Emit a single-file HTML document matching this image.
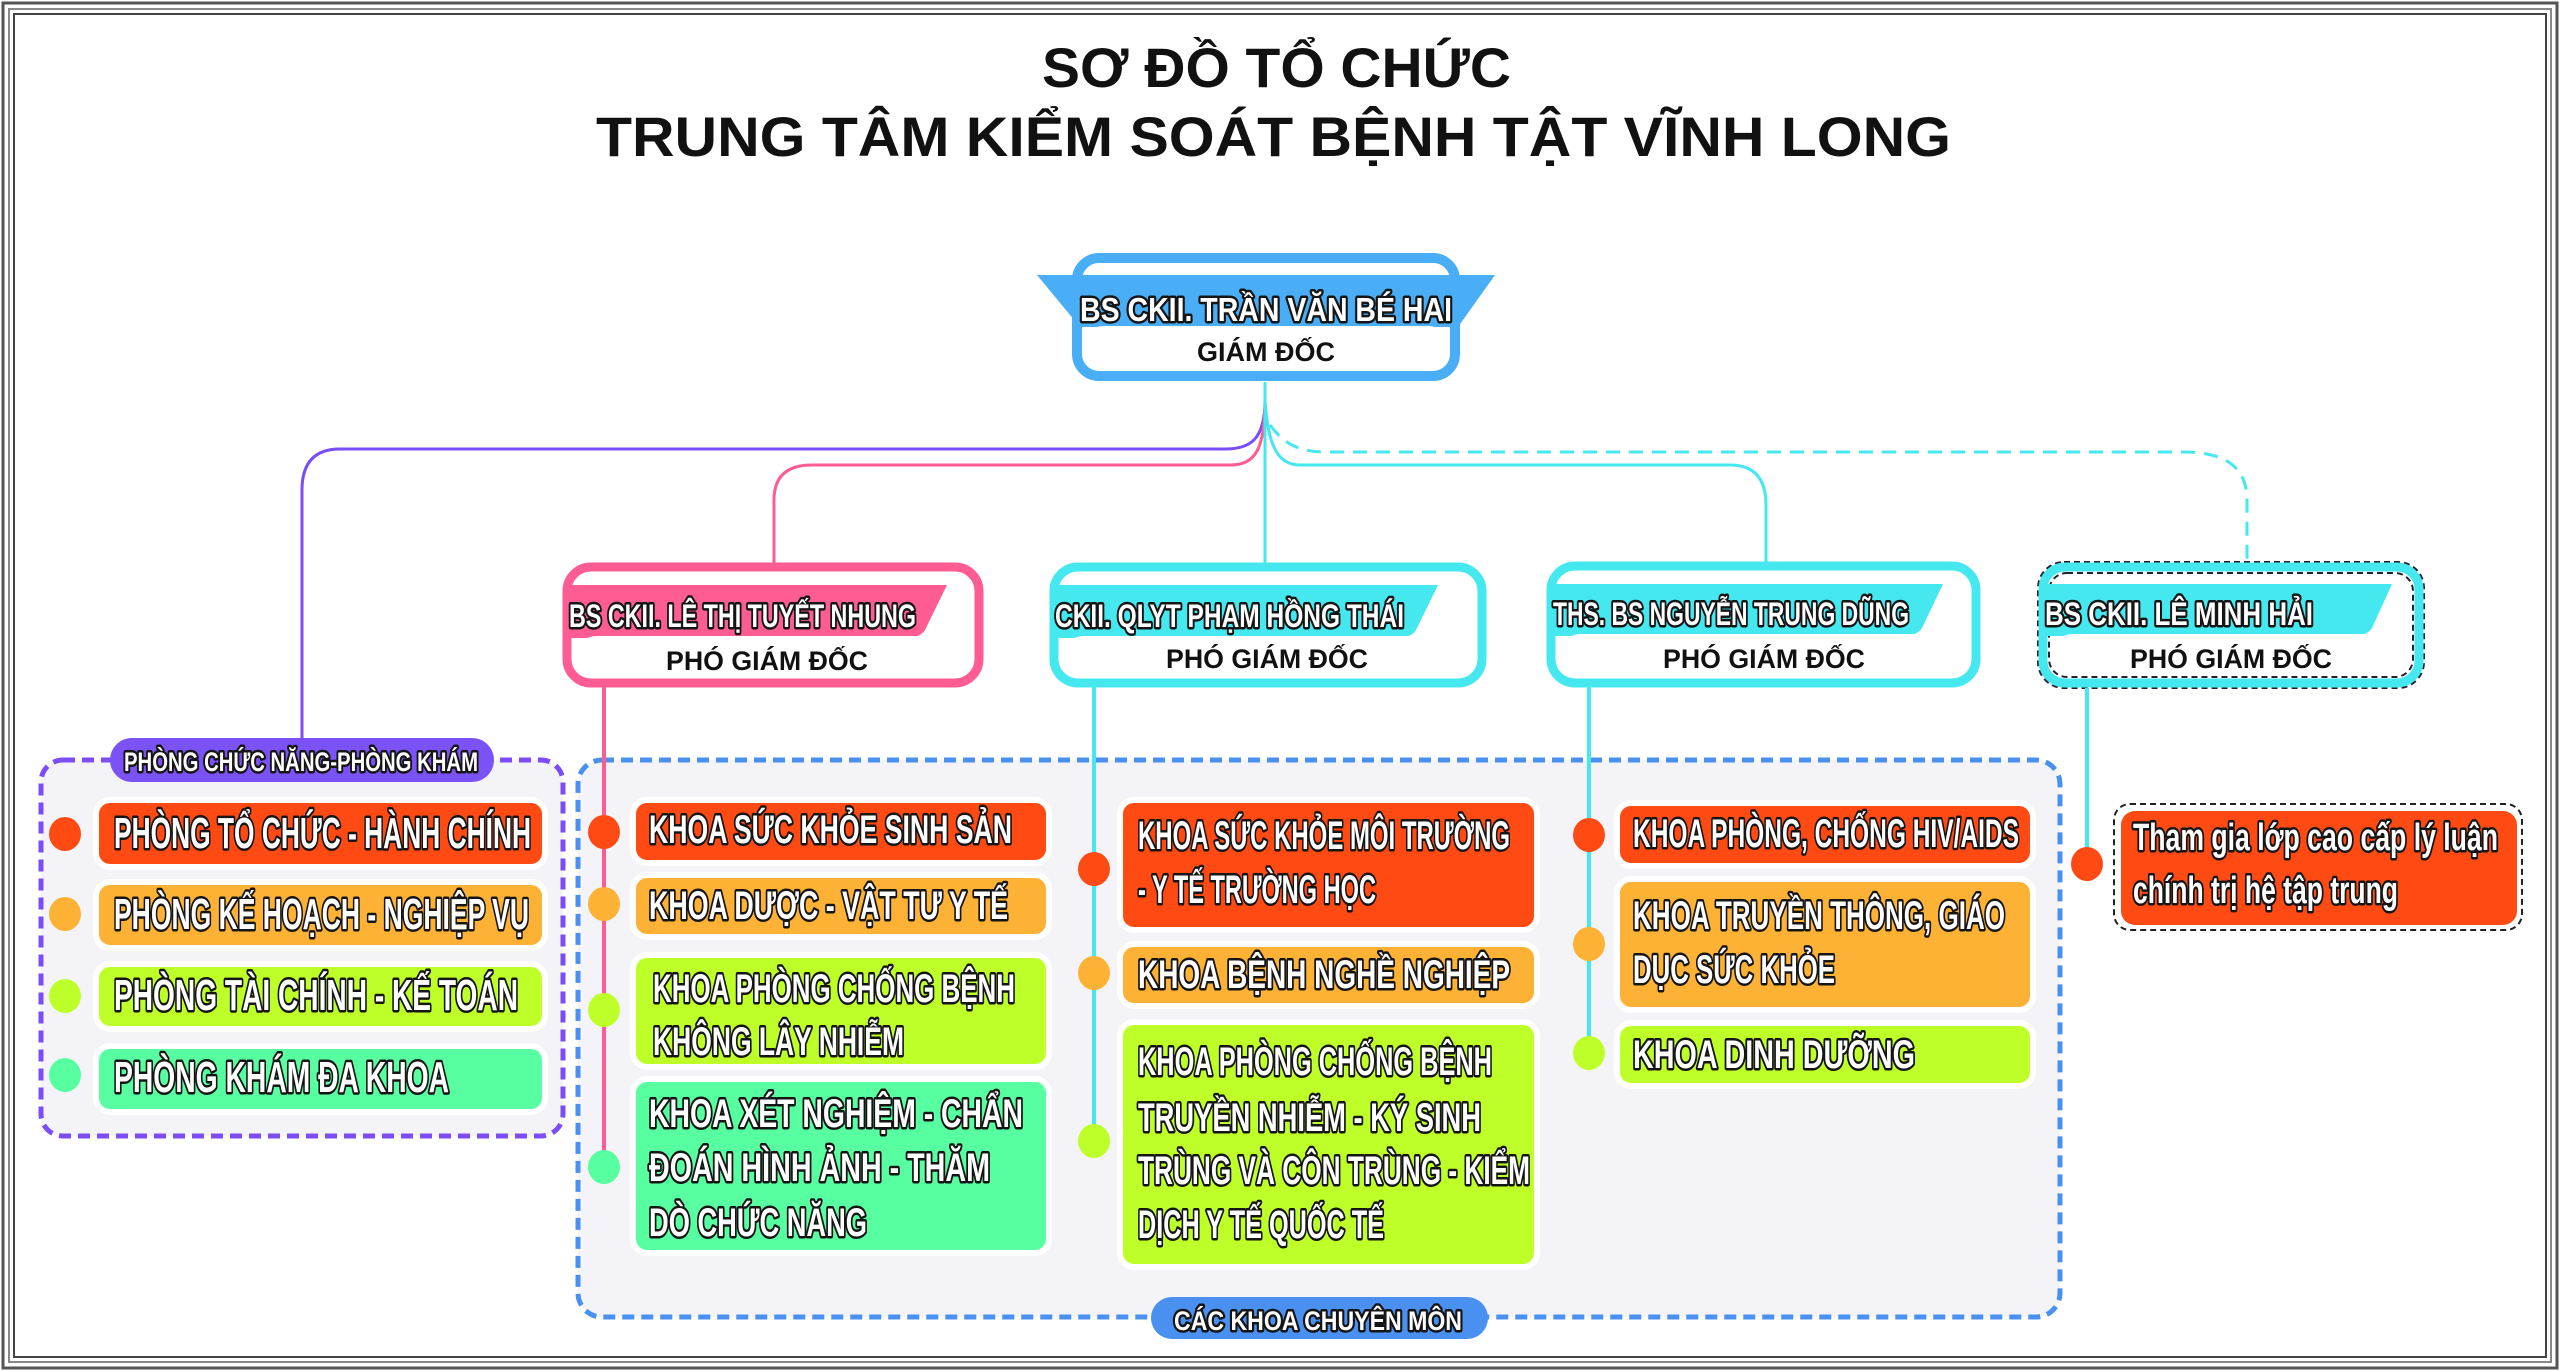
<!DOCTYPE html>
<html><head><meta charset="utf-8"><style>
html,body{margin:0;padding:0;background:#fff;}
svg{display:block;}
.t{fill:#fff;stroke:#151515;stroke-width:5;paint-order:stroke;stroke-linejoin:round;font-family:"Liberation Sans Narrow","Liberation Sans",sans-serif;font-weight:bold;}
.b{fill:#111;font-family:"Liberation Sans","DejaVu Sans",sans-serif;font-weight:bold;}
</style></head><body>
<svg width="2560" height="1371" viewBox="0 0 2560 1371" xmlns="http://www.w3.org/2000/svg">
<rect x="0" y="0" width="2560" height="1371" fill="#fff"/>
<rect x="3" y="3" width="2554" height="1365" fill="none" stroke="#555" stroke-width="3"/>
<rect x="9" y="9" width="2542" height="1353" fill="none" stroke="#888" stroke-width="2"/>
<rect x="14" y="14" width="2532" height="1343" fill="none" stroke="#444" stroke-width="2"/>

<!-- Title -->
<text class="b" x="1042" y="87" font-size="56" textLength="469" lengthAdjust="spacingAndGlyphs">SƠ ĐỒ TỔ CHỨC</text>
<text class="b" x="596" y="156" font-size="56" textLength="1355" lengthAdjust="spacingAndGlyphs">TRUNG TÂM KIỂM SOÁT BỆNH TẬT VĨNH LONG</text>

<!-- Connectors -->
<g fill="none" stroke-width="3">
<path d="M1265 382 L1265 400 C1265 440 1250 449 1225 449 L340 449 Q302 449 302 490 L302 740" stroke="#7B4DF5"/>
<path d="M1265 400 C1265 450 1255 465 1230 465 L812 465 Q774 465 774 500 L774 563" stroke="#FF5C93"/>
<path d="M1265 382 L1265 563" stroke="#45E8EE"/>
<path d="M1265 400 C1268 450 1280 465 1300 465 L1730 465 Q1766 465 1766 505 L1766 563" stroke="#45E8EE"/>
<path d="M1270 425 C1285 445 1300 452 1326 452 L2184 452 Q2247 452 2247 500 L2247 562" stroke="#45E8EE" stroke-dasharray="14 9"/>
</g>

<!-- Director -->
<rect x="1077" y="258" width="378" height="118" rx="22" fill="#fff" stroke="#4AAEF7" stroke-width="10"/>
<polygon points="1037,275 1495,275 1458,327 1080,327" fill="#4AAEF7"/>
<rect x="1085" y="326" width="362" height="44" rx="18" fill="#fff"/>
<text class="t" x="1080" y="321" font-size="33" stroke-width="5" style="font-family:'Liberation Sans',sans-serif" textLength="372" lengthAdjust="spacingAndGlyphs">BS CKII. TRẦN VĂN BÉ HAI</text>
<text class="b" x="1197" y="361" font-size="27" textLength="138" lengthAdjust="spacingAndGlyphs">GIÁM ĐỐC</text>

<!-- PGD boxes -->
<g>
<rect x="567" y="567" width="412" height="116" rx="24" fill="#fff" stroke="#FF5C93" stroke-width="9"/>
<path d="M571 585 L947 585 L925 630 Q920 638 905 638 L571 638 Z" fill="#FF5C93"/>
<rect x="578" y="636" width="392" height="40" rx="18" fill="#fff"/>
<text class="t" x="569" y="627" font-size="32" stroke-width="4" textLength="347" lengthAdjust="spacingAndGlyphs">BS CKII. LÊ THỊ TUYẾT NHUNG</text>
<text class="b" x="666" y="670" font-size="27" textLength="202" lengthAdjust="spacingAndGlyphs">PHÓ GIÁM ĐỐC</text>

<rect x="1054" y="567" width="428" height="116" rx="24" fill="#fff" stroke="#45E8EE" stroke-width="9"/>
<path d="M1058 585 L1438 585 L1416 630 Q1411 638 1396 638 L1058 638 Z" fill="#45E8EE"/>
<rect x="1065" y="636" width="408" height="40" rx="18" fill="#fff"/>
<text class="t" x="1055" y="627" font-size="32" stroke-width="4" textLength="349" lengthAdjust="spacingAndGlyphs">CKII. QLYT PHẠM HỒNG THÁI</text>
<text class="b" x="1166" y="668" font-size="27" textLength="202" lengthAdjust="spacingAndGlyphs">PHÓ GIÁM ĐỐC</text>

<rect x="1551" y="566" width="425" height="117" rx="24" fill="#fff" stroke="#45E8EE" stroke-width="9"/>
<path d="M1555 584 L1943 584 L1922 628 Q1917 636 1902 636 L1555 636 Z" fill="#45E8EE"/>
<rect x="1562" y="634" width="405" height="42" rx="18" fill="#fff"/>
<text class="t" x="1553" y="625" font-size="32" stroke-width="4" textLength="356" lengthAdjust="spacingAndGlyphs">THS. BS NGUYỄN TRUNG DŨNG</text>
<text class="b" x="1663" y="668" font-size="27" textLength="202" lengthAdjust="spacingAndGlyphs">PHÓ GIÁM ĐỐC</text>

<rect x="2038" y="562" width="386" height="126" rx="26" fill="none" stroke="#223" stroke-width="2" stroke-dasharray="6 4"/>
<rect x="2043" y="567" width="376" height="116" rx="22" fill="#fff" stroke="#45E8EE" stroke-width="9"/>
<rect x="2049" y="573" width="364" height="104" rx="18" fill="none" stroke="#223" stroke-width="2" stroke-dasharray="6 4"/>
<path d="M2047 584 L2392 584 L2372 628 Q2367 636 2352 636 L2047 636 Z" fill="#45E8EE"/>
<rect x="2054" y="634" width="358" height="42" rx="18" fill="#fff"/>
<text class="t" x="2045" y="625" font-size="32" stroke-width="4" textLength="268" lengthAdjust="spacingAndGlyphs">BS CKII. LÊ MINH HẢI</text>
<text class="b" x="2130" y="668" font-size="27" textLength="202" lengthAdjust="spacingAndGlyphs">PHÓ GIÁM ĐỐC</text>
</g>

<!-- Groups -->
<rect x="41" y="760" width="522" height="376" rx="22" fill="#F4F4F8" stroke="#7B4DF5" stroke-width="5" stroke-dasharray="12 7"/>
<rect x="578" y="760" width="1482" height="557" rx="24" fill="#F4F4F8" stroke="#4A90F0" stroke-width="5" stroke-dasharray="12 7"/>

<rect x="110" y="738" width="384" height="44" rx="22" fill="#7B52F5"/>
<text class="t" x="124" y="771" font-size="27" stroke-width="4" textLength="354" lengthAdjust="spacingAndGlyphs">PHÒNG CHỨC NĂNG-PHÒNG KHÁM</text>

<rect x="1151" y="1297" width="337" height="42" rx="21" fill="#4A90F0"/>
<text class="t" x="1174" y="1330" font-size="27" stroke-width="4" textLength="288" lengthAdjust="spacingAndGlyphs">CÁC KHOA CHUYÊN MÔN</text>

<!-- Vertical lines in groups -->
<g stroke-width="4">
<line x1="302" y1="740" x2="302" y2="738" stroke="#7B4DF5"/>
<line x1="604" y1="687" x2="604" y2="1167" stroke="#FF5C93"/>
<line x1="1094" y1="687" x2="1094" y2="1141" stroke="#45E8EE"/>
<line x1="1589" y1="687" x2="1589" y2="1053" stroke="#45E8EE"/>
<line x1="2087" y1="688" x2="2087" y2="864" stroke="#45E8EE"/>
</g>

<!-- Items: PCN -->
<g stroke="#fff" stroke-width="6">
<rect x="96" y="800" width="449" height="67" rx="14" fill="#FF4A14"/>
<rect x="96" y="882" width="449" height="66" rx="14" fill="#FDB235"/>
<rect x="96" y="964" width="449" height="65" rx="14" fill="#BEFF2A"/>
<rect x="96" y="1046" width="449" height="66" rx="14" fill="#58FFA1"/>

<rect x="633" y="800" width="416" height="63" rx="14" fill="#FF4A14"/>
<rect x="633" y="875" width="416" height="62" rx="14" fill="#FDB235"/>
<rect x="633" y="955" width="416" height="112" rx="14" fill="#BEFF2A"/>
<rect x="633" y="1079" width="416" height="174" rx="14" fill="#58FFA1"/>

<rect x="1120" y="800" width="417" height="130" rx="14" fill="#FF4A14"/>
<rect x="1120" y="944" width="417" height="62" rx="14" fill="#FDB235"/>
<rect x="1120" y="1022" width="417" height="245" rx="14" fill="#BEFF2A"/>

<rect x="1617" y="803" width="416" height="63" rx="14" fill="#FF4A14"/>
<rect x="1617" y="879" width="416" height="131" rx="14" fill="#FDB235"/>
<rect x="1617" y="1023" width="416" height="63" rx="14" fill="#BEFF2A"/>
</g>
<rect x="2114" y="804" width="408" height="126" rx="16" fill="none" stroke="#222" stroke-width="2" stroke-dasharray="6 4"/>
<rect x="2121" y="811" width="396" height="114" rx="14" fill="#FF4A14"/>

<!-- Dots -->
<g>
<ellipse cx="65" cy="834" rx="16" ry="17" fill="#FF4A14"/>
<ellipse cx="65" cy="914" rx="16" ry="17" fill="#FDB235"/>
<ellipse cx="65" cy="996" rx="16" ry="17" fill="#BEFF2A"/>
<ellipse cx="65" cy="1075" rx="16" ry="17" fill="#58FFA1"/>

<ellipse cx="604" cy="832" rx="16" ry="17" fill="#FF4A14"/>
<ellipse cx="604" cy="904" rx="16" ry="17" fill="#FDB235"/>
<ellipse cx="604" cy="1010" rx="16" ry="17" fill="#BEFF2A"/>
<ellipse cx="604" cy="1167" rx="16" ry="17" fill="#58FFA1"/>

<ellipse cx="1094" cy="869" rx="16" ry="17" fill="#FF4A14"/>
<ellipse cx="1094" cy="973" rx="16" ry="17" fill="#FDB235"/>
<ellipse cx="1094" cy="1141" rx="16" ry="17" fill="#BEFF2A"/>

<ellipse cx="1589" cy="835" rx="16" ry="17" fill="#FF4A14"/>
<ellipse cx="1589" cy="944" rx="16" ry="17" fill="#FDB235"/>
<ellipse cx="1589" cy="1053" rx="16" ry="17" fill="#BEFF2A"/>

<ellipse cx="2087" cy="864" rx="16" ry="17" fill="#FF4A14"/>
</g>

<!-- Item texts -->
<g class="t" font-size="44">
<text x="114" y="848" textLength="417" lengthAdjust="spacingAndGlyphs">PHÒNG TỔ CHỨC - HÀNH CHÍNH</text>
<text x="114" y="929" textLength="415" lengthAdjust="spacingAndGlyphs">PHÒNG KẾ HOẠCH - NGHIỆP VỤ</text>
<text x="114" y="1010" textLength="404" lengthAdjust="spacingAndGlyphs">PHÒNG TÀI CHÍNH - KẾ TOÁN</text>
<text x="114" y="1092" textLength="335" lengthAdjust="spacingAndGlyphs">PHÒNG KHÁM ĐA KHOA</text>
</g>
<g class="t" font-size="40">
<text x="649" y="843" textLength="363" lengthAdjust="spacingAndGlyphs">KHOA SỨC KHỎE SINH SẢN</text>
<text x="649" y="919" textLength="359" lengthAdjust="spacingAndGlyphs">KHOA DƯỢC - VẬT TƯ Y TẾ</text>
<text x="653" y="1002" textLength="362" lengthAdjust="spacingAndGlyphs">KHOA PHÒNG CHỐNG BỆNH</text>
<text x="653" y="1055" textLength="251" lengthAdjust="spacingAndGlyphs">KHÔNG LÂY NHIỄM</text>
<text x="649" y="1127" textLength="374" lengthAdjust="spacingAndGlyphs">KHOA XÉT NGHIỆM - CHẨN</text>
<text x="649" y="1181" textLength="341" lengthAdjust="spacingAndGlyphs">ĐOÁN HÌNH ẢNH - THĂM</text>
<text x="649" y="1236" textLength="218" lengthAdjust="spacingAndGlyphs">DÒ CHỨC NĂNG</text>

<text x="1138" y="849" textLength="372" lengthAdjust="spacingAndGlyphs">KHOA SỨC KHỎE MÔI TRƯỜNG</text>
<text x="1138" y="903" textLength="238" lengthAdjust="spacingAndGlyphs">- Y TẾ TRƯỜNG HỌC</text>
<text x="1138" y="988" textLength="372" lengthAdjust="spacingAndGlyphs">KHOA BỆNH NGHỀ NGHIỆP</text>
<text x="1138" y="1075" textLength="354" lengthAdjust="spacingAndGlyphs">KHOA PHÒNG CHỐNG BỆNH</text>
<text x="1138" y="1131" textLength="343" lengthAdjust="spacingAndGlyphs">TRUYỀN NHIỄM - KÝ SINH</text>
<text x="1138" y="1184" textLength="392" lengthAdjust="spacingAndGlyphs">TRÙNG VÀ CÔN TRÙNG - KIỂM</text>
<text x="1138" y="1238" textLength="246" lengthAdjust="spacingAndGlyphs">DỊCH Y TẾ QUỐC TẾ</text>

<text x="1633" y="847" textLength="386" lengthAdjust="spacingAndGlyphs">KHOA PHÒNG, CHỐNG HIV/AIDS</text>
<text x="1633" y="929" textLength="372" lengthAdjust="spacingAndGlyphs">KHOA TRUYỀN THÔNG, GIÁO</text>
<text x="1633" y="983" textLength="202" lengthAdjust="spacingAndGlyphs">DỤC SỨC KHỎE</text>
<text x="1633" y="1068" textLength="282" lengthAdjust="spacingAndGlyphs">KHOA DINH DƯỠNG</text>
</g>
<g class="t" font-size="38" stroke-width="4">
<text x="2133" y="850" textLength="365" lengthAdjust="spacingAndGlyphs">Tham gia lớp cao cấp lý luận</text>
<text x="2133" y="903" textLength="265" lengthAdjust="spacingAndGlyphs">chính trị hệ tập trung</text>
</g>
</svg>
</body></html>
